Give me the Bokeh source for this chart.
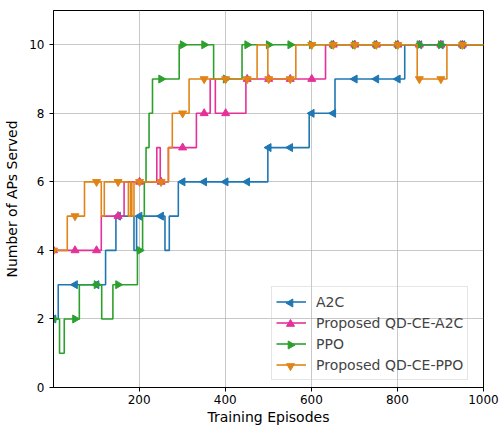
import numpy as np
from bokeh.plotting import figure
from bokeh.models import Legend, LegendItem, Range1d, FixedTicker
from bokeh.embed import file_html
from bokeh.resources import INLINE

# Step-change points (episode where the value starts, value)
a2c_x = [1, 12, 122, 146, 188, 194, 260, 270, 291, 499, 595, 655, 817]
a2c_y = [2, 3, 4, 5, 4, 5, 4, 5, 6, 7, 8, 9, 10]
qa2c_x = [1, 112, 165, 241, 249, 268, 333, 365, 377, 448, 633]
qa2c_y = [4, 5, 6, 7, 6, 7, 8, 9, 8, 9, 10]
ppo_x = [1, 15, 26, 61, 113, 139, 196, 208, 212, 216, 223, 231, 293, 373, 439]
ppo_y = [2, 1, 2, 3, 2, 3, 4, 5, 6, 7, 8, 9, 10, 9, 10]
qppo_x = [1, 33, 73, 112, 119, 175, 180, 183, 188, 268, 277, 316, 474, 499, 564, 846, 915]
qppo_y = [4, 5, 6, 5, 6, 5, 6, 5, 6, 7, 8, 9, 10, 9, 10, 9, 10]

labels = ["A2C", "Proposed QD-CE-A2C", "PPO", "Proposed QD-CE-PPO"]
colors = ["#1f77b4", "#e5309a", "#2ca02c", "#e08418"]
x_ticks = [200, 400, 600, 800, 1000]
y_ticks = [0, 2, 4, 6, 8, 10]
first_episode = 1
last_episode = 1000
y_max = 11
mark_every = 50

FONT = "DejaVu Sans"
W, H = 503, 427
B_LEFT, B_RIGHT, B_TOP, B_BOTTOM = 53, 20, 10, 40
FRAME_W = W - B_LEFT - B_RIGHT
FRAME_H = H - B_TOP - B_BOTTOM

p = figure(width=W, height=H, output_backend="svg", toolbar_location=None,
           x_range=Range1d(first_episode, last_episode), y_range=Range1d(0, y_max),
           min_border_left=B_LEFT, min_border_right=B_RIGHT, min_border_top=B_TOP,
           min_border_bottom=B_BOTTOM)
p.background_fill_color = "white"
p.outline_line_color = "black"
p.outline_line_width = 1


def step_coords(xs, ys, end):
    sx, sy = [], []
    for i in range(len(xs)):
        x0 = xs[i]
        x1 = xs[i + 1] if i + 1 < len(xs) else end
        sx += [x0, x1]
        sy += [ys[i], ys[i]]
    return sx, sy


def value_at(xs, ys, e):
    idx = np.searchsorted(np.array(xs), e, side="right") - 1
    return ys[idx]


series = [(a2c_x, a2c_y), (qa2c_x, qa2c_y), (ppo_x, ppo_y), (qppo_x, qppo_y)]
markers = [("triangle", np.pi / 2), ("triangle", 0.0), ("triangle", -np.pi / 2), ("inverted_triangle", 0.0)]

items = []
mark_eps = list(range(first_episode, last_episode, mark_every))
for (xs, ys), lab, col, (mk, ang) in zip(series, labels, colors, markers):
    sx, sy = step_coords(xs, ys, last_episode)
    lr = p.line(sx, sy, line_color=col, line_width=1.6)
    my = [value_at(xs, ys, e) for e in mark_eps]
    p.scatter(mark_eps, my, marker=mk, angle=ang, size=8, fill_color=col, line_color=col)
    items.append(LegendItem(label=lab, renderers=[lr]))

# legend layout (screen px relative to frame bottom-left)
LX, LY = 218, 7
PAD, ROW_H, GLYPH_W = 4, 21, 30
legend = Legend(items=items, location=(LX, LY))
legend.label_text_font = FONT
legend.label_text_font_size = "14px"
legend.glyph_width = GLYPH_W
legend.glyph_height = ROW_H
legend.label_height = ROW_H
legend.label_standoff = 10
legend.spacing = 0
legend.padding = PAD
legend.margin = 0
legend.border_line_color = "#cccccc"
legend.background_fill_alpha = 0.0
p.add_layout(legend)

# rotated marker symbols inside the legend (Bokeh legends ignore marker angle)
n = len(labels)
leg_h = n * ROW_H + 2 * PAD
gx_px = LX + PAD + GLYPH_W / 2
lm_x = [first_episode + gx_px * (last_episode - first_episode) / FRAME_W] * n
lm_y = [(LY + leg_h - PAD - ROW_H * i - ROW_H / 2) * y_max / FRAME_H for i in range(n)]
p.scatter(lm_x, lm_y, marker=[m for m, _ in markers], angle=[a for _, a in markers],
          size=8, fill_color=colors, line_color=colors)

for ax in (p.xaxis, p.yaxis):
    ax.axis_line_color = "black"
    ax.major_tick_line_color = "black"
    ax.major_tick_out = 4
    ax.major_tick_in = 0
    ax.minor_tick_line_color = None
    ax.major_label_text_font = FONT
    ax.major_label_text_font_size = "12px"
    ax.major_label_text_color = "black"
    ax.axis_label_text_font = FONT
    ax.axis_label_text_font_size = "14px"
    ax.axis_label_text_font_style = "normal"
    ax.axis_label_text_color = "black"

p.xaxis.ticker = FixedTicker(ticks=x_ticks)
p.yaxis.ticker = FixedTicker(ticks=y_ticks)
p.xaxis.axis_label = "Training Episodes"
p.yaxis.axis_label = "Number of APs Served"
p.xaxis.major_label_standoff = 3
p.xaxis.axis_label_standoff = 2
p.yaxis.axis_label_standoff = 6

p.xgrid.ticker = FixedTicker(ticks=x_ticks)
p.ygrid.ticker = FixedTicker(ticks=y_ticks)
p.grid.grid_line_color = "#b0b0b0"
p.grid.grid_line_alpha = 0.7
p.grid.grid_line_width = 1

open("out.html", "w").write(file_html(p, INLINE))
